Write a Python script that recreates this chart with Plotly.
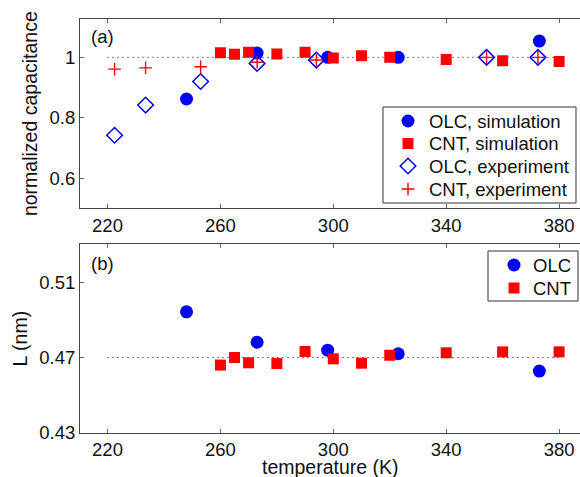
import plotly.graph_objects as go
from plotly.subplots import make_subplots

# ---- data ----
olc_sim_T = [248, 273, 298, 323, 373]
olc_sim_cap = [0.862, 1.014, 1.000, 1.000, 1.054]
olc_sim_L = [0.4942, 0.4781, 0.4739, 0.4720, 0.4628]

cnt_sim_T = [260, 265, 270, 280, 290, 300, 310, 320, 340, 360, 380]
cnt_sim_cap = [1.015, 1.010, 1.017, 1.011, 1.017, 0.998, 1.005, 1.000, 0.993, 0.989, 0.986]
cnt_sim_L = [0.4660, 0.4700, 0.4672, 0.4668, 0.4732, 0.4693, 0.4670, 0.4712, 0.4725, 0.4730, 0.4730]

exp_T = [222.5, 233.5, 253, 273, 294, 354.3, 372.5]
olc_exp_cap = [0.742, 0.842, 0.920, 0.980, 0.991, 1.000, 1.000]
cnt_exp_cap = [0.961, 0.965, 0.969, 0.984, 0.991, 1.000, 1.000]

ref_T = [220, 380]
ref_cap = [1.0, 1.0]
ref_L = [0.47, 0.47]

x_ticks = [220, 260, 300, 340, 380]
cap_ticks = [0.6, 0.8, 1.0]
cap_ticklabels = ["0.6", "0.8", "1"]
L_ticks = [0.43, 0.47, 0.51]
L_ticklabels = ["0.43", "0.47", "0.51"]

legend_a_labels = ["OLC, simulation", "CNT, simulation", "OLC, experiment", "CNT, experiment"]
legend_b_labels = ["OLC", "CNT"]

BLUE = "#0000FF"
RED = "#FF0000"
FONT = "Liberation Sans"
FS = 18.5
TFS = 19.5
TXT = "#111111"

# page geometry (pixels)
W, H = 580, 477
ML, MR, MT, MB = 80, 0, 19, 44
PW, PH = W - ML - MR, H - MT - MB

marker_styles = {
    "OLC, simulation": dict(symbol="circle", size=13, color=BLUE, line=dict(width=0)),
    "CNT, simulation": dict(symbol="square", size=11, color=RED, line=dict(width=0)),
    "OLC, experiment": dict(symbol="diamond-open", size=12, color=BLUE, line=dict(width=1.5, color=BLUE)),
    "CNT, experiment": dict(symbol="cross-thin", size=9, color=RED, line=dict(width=1.4, color=RED)),
}
marker_styles["OLC"] = marker_styles["OLC, simulation"]
marker_styles["CNT"] = marker_styles["CNT, simulation"]

fig = make_subplots(rows=2, cols=1, vertical_spacing=0.08)

# reference dotted lines
fig.add_trace(go.Scatter(x=ref_T, y=ref_cap, mode="lines", showlegend=False, hoverinfo="skip",
                         line=dict(color="black", width=1, dash="1px,4px")), row=1, col=1)
fig.add_trace(go.Scatter(x=ref_T, y=ref_L, mode="lines", showlegend=False, hoverinfo="skip",
                         line=dict(color="black", width=1, dash="1px,4px")), row=2, col=1)

# panel (a)
fig.add_trace(go.Scatter(x=olc_sim_T, y=olc_sim_cap, mode="markers", name="OLC, simulation",
                         marker=marker_styles["OLC, simulation"]), row=1, col=1)
fig.add_trace(go.Scatter(x=cnt_sim_T, y=cnt_sim_cap, mode="markers", name="CNT, simulation",
                         marker=marker_styles["CNT, simulation"]), row=1, col=1)
fig.add_trace(go.Scatter(x=exp_T, y=olc_exp_cap, mode="markers", name="OLC, experiment",
                         marker=marker_styles["OLC, experiment"]), row=1, col=1)
fig.add_trace(go.Scatter(x=exp_T, y=cnt_exp_cap, mode="markers", name="CNT, experiment",
                         marker=marker_styles["CNT, experiment"]), row=1, col=1)

# panel (b)
fig.add_trace(go.Scatter(x=olc_sim_T, y=olc_sim_L, mode="markers", name="OLC",
                         marker=marker_styles["OLC"]), row=2, col=1)
fig.add_trace(go.Scatter(x=cnt_sim_T, y=cnt_sim_L, mode="markers", name="CNT",
                         marker=marker_styles["CNT"]), row=2, col=1)

# ---- hand-drawn legends on a hidden full-plot overlay axis (pixel units) ----
def px_to_paper_x(px):
    return (px - ML) / PW

def px_to_paper_y(py):
    return (H - MB - py) / PH

def draw_legend(labels, box, rows_y, marker_x, text_x):
    x0, y0, x1, y1 = box
    fig.add_shape(type="rect", xref="paper", yref="paper",
                  x0=px_to_paper_x(x0), x1=px_to_paper_x(x1),
                  y0=px_to_paper_y(y1), y1=px_to_paper_y(y0),
                  line=dict(color="#333333", width=1), fillcolor="rgba(0,0,0,0)", layer="above")
    for lab, ry in zip(labels, rows_y):
        fig.add_trace(go.Scatter(x=[marker_x], y=[ry], mode="markers", xaxis="x3", yaxis="y3",
                                 marker=marker_styles[lab], showlegend=False, hoverinfo="skip"))
        fig.add_annotation(text=lab, xref="paper", yref="paper",
                           x=px_to_paper_x(text_x), y=px_to_paper_y(ry),
                           xanchor="left", yanchor="middle", showarrow=False,
                           font=dict(family=FONT, size=FS, color=TXT))

draw_legend(legend_a_labels, (383, 107, 576, 203), [121, 143.5, 166, 189], 408, 427)
draw_legend(legend_b_labels, (488, 251, 578, 301), [265, 288], 514, 531)

xr = [210.26, 387.4]
axis_common = dict(showline=True, linecolor="#444444", linewidth=1, ticks="inside",
                   ticklen=4, tickcolor="#666666", showgrid=False, zeroline=False,
                   tickfont=dict(family=FONT, size=FS, color=TXT))

fig.update_xaxes(range=xr, tickvals=x_ticks, mirror="ticks", domain=[0, 1], **axis_common)

fig.update_yaxes(range=[0.5, 1.127], tickvals=cap_ticks, ticktext=cap_ticklabels,
                 domain=[0.5427, 1.0], mirror=False,
                 title=dict(text="normalized capacitance", standoff=6,
                            font=dict(family=FONT, size=TFS, color=TXT)),
                 row=1, col=1, **axis_common)
fig.update_yaxes(range=[0.43, 0.53], tickvals=L_ticks, ticktext=L_ticklabels,
                 domain=[0.0, 0.4558], mirror=False,
                 title=dict(text="L (nm)", standoff=6,
                            font=dict(family=FONT, size=TFS, color=TXT)),
                 row=2, col=1, **axis_common)

# x-axis title as an annotation so it can sit right at the bottom edge
fig.add_annotation(text="temperature (K)", xref="paper", yref="paper",
                   x=0.5, y=px_to_paper_y(467), xanchor="center", yanchor="middle",
                   showarrow=False, font=dict(family=FONT, size=TFS, color=TXT))

fig.add_annotation(text="(a)", xref="x domain", yref="y domain", x=0.018, y=0.906,
                   xanchor="left", yanchor="middle", showarrow=False,
                   font=dict(family=FONT, size=FS, color=TXT))
fig.add_annotation(text="(b)", xref="x2 domain", yref="y2 domain", x=0.018, y=0.899,
                   xanchor="left", yanchor="middle", showarrow=False,
                   font=dict(family=FONT, size=FS, color=TXT))

fig.update_layout(
    width=W, height=H,
    margin=dict(l=ML, r=MR, t=MT, b=MB, autoexpand=False),
    paper_bgcolor="white", plot_bgcolor="rgba(0,0,0,0)",
    showlegend=False,
    xaxis3=dict(domain=[0, 1], range=[ML, W - MR], visible=False, anchor="y3", fixedrange=True),
    yaxis3=dict(domain=[0, 1], range=[H - MB, MT], visible=False, anchor="x3", fixedrange=True),
)

fig.write_html("out.html")
